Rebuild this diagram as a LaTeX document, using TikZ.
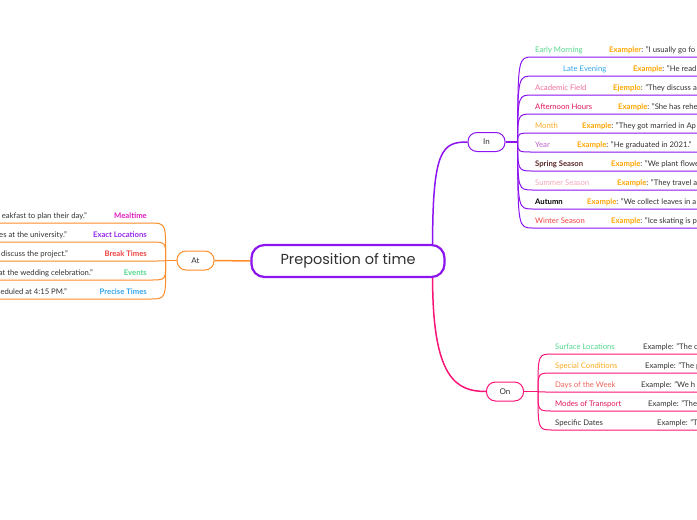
\documentclass[tikz,border=0pt]{standalone}
\usepackage{fontspec}
\setmainfont{Lato}
\newfontfamily\titlefont{Poppins}
\usetikzlibrary{positioning,backgrounds}
\definecolor{mmpurple}{RGB}{140,20,240}
\definecolor{mmorange}{RGB}{255,140,40}
\definecolor{mmpink}{RGB}{250,20,120}
\definecolor{exorange}{RGB}{255,165,0}
\definecolor{txtgray}{RGB}{50,50,50}
\definecolor{cgreen}{RGB}{80,215,140}
\definecolor{cblue}{RGB}{50,165,235}
\definecolor{crose}{RGB}{240,110,160}
\definecolor{ccrimson}{RGB}{225,20,90}
\definecolor{cgold}{RGB}{250,170,30}
\definecolor{corchid}{RGB}{185,95,200}
\definecolor{cbrown}{RGB}{90,40,40}
\definecolor{cpeach}{RGB}{245,165,185}
\definecolor{cred}{RGB}{240,65,65}
\definecolor{ccoral}{RGB}{240,100,90}
\definecolor{cmagenta}{RGB}{225,30,190}
\definecolor{cviolet}{RGB}{150,40,240}

\begin{document}
\begin{tikzpicture}[x=1pt,y=-1pt,
    topic/.style={draw, fill=white, rounded corners=9pt, line width=1pt,
      minimum width=37pt, minimum height=19pt, inner sep=0pt,
      text=txtgray, font=\fontsize{8}{9}\selectfont},
    leaf/.style={inner sep=0pt, font=\fontsize{7.7}{9}\selectfont},
    twig/.style={line width=1pt}]
  \useasboundingbox (0,0) rectangle (697,520);

  % central topic
  \node[draw=mmpurple, fill=white, line width=2.2pt, rounded corners=13pt,
    minimum width=193pt, minimum height=32pt, text=txtgray,
    font=\titlefont\fontsize{14.5}{16}\selectfont] (root) at (348,261) {Preposition of time};

  \node[topic, draw=mmorange] (at) at (195.5,260.5) {At};
  \node[topic, draw=mmpurple] (in) at (486.5,142) {In};
  \node[topic, draw=mmpink] (on) at (505,391.5) {On};

  \begin{scope}[on background layer]
    \draw[mmorange, line width=1.5pt] (root.west) -- (at.east);
    \draw[mmpurple, line width=1.5pt] ([xshift=-13pt]root.north east)
      .. controls +(0,-95) and +(-25,0) .. (in.west);
    \draw[mmpink, line width=1.5pt] ([xshift=-13pt]root.south east)
      .. controls +(0,100) and +(-30,0) .. (on.west);
  \end{scope}

  % In
  \draw[mmpurple, line width=1.5pt] (in.east) -- ++(12,0) coordinate (inhub);
  \foreach \lab/\col/\lx/\exx/\word/\txt [count=\i] in {
      Early Morning/cgreen/535/609/Exampler/{"I usually go fo},
      Late Evening/cblue/563/633/Example/{"He read},
      Academic Field/crose/535/613/Ejemplo/{"They discuss a},
      Afternoon Hours/ccrimson/535/618/Example/{"She has rehe},
      Month/cgold/535/582/Example/{"They got married in Ap},
      Year/corchid/535/577/Example/{"He graduated in 2021."},
      \textbf{Spring Season}/cbrown/535/611/Example/{"We plant flowe},
      Summer Season/cpeach/535/617/Example/{"They travel a},
      \textbf{Autumn}/black/535/587/Example/{"We collect leaves in a},
      Winter Season/cred/535/611/Example/{"Ice skating is p}}
  {
    \pgfmathsetmacro\u{38+19*\i}
    \draw[mmpurple, twig] (inhub) .. controls (518,\u) .. (533,\u) -- (697,\u);
    \node[leaf, anchor=base west, text=\col] (in-\i) at (\lx,\u-4.5) {\lab};
    \node[leaf, anchor=base west, text=txtgray] (inex-\i) at (\exx,\u-4.5)
      {\textbf{\color{exorange}\word}: \txt};
  }

  % On
  \draw[mmpink, line width=1.5pt] (on.east) -- ++(14,0) coordinate (onhub);
  \foreach \lab/\col/\exx/\txt [count=\i] in {
      Surface Locations/cgreen/643/{"The c},
      Special Conditions/cgold/645/{"The p},
      Days of the Week/ccoral/641/{"We h},
      Modes of Transport/ccrimson/648/{"The},
      Specific Dates/txtgray/657/{"T}}
  {
    \pgfmathsetmacro\u{335+19*\i}
    \draw[mmpink, twig] (onhub) .. controls (538,\u) .. (553,\u) -- (697,\u);
    \node[leaf, anchor=base west, text=\col] (on-\i) at (555,\u-5) {\lab};
    \node[leaf, anchor=base west, text=txtgray] (onex-\i) at (\exx,\u-5) {Example: \txt};
  }

  % At
  \draw[mmorange, line width=1.5pt] (at.west) -- ++(-11,0) coordinate (athub);
  \foreach \lab/\col/\exx/\txt [count=\i] in {
      Mealtime/cmagenta/87/{eakfast to plan their day."},
      Exact Locations/cviolet/67/{es at the university."},
      Break Times/cred/68/{d discuss the project."},
      Events/cgreen/93/{at the wedding celebration."},
      Precise Times/cblue/67/{heduled at 4:15 PM."}}
  {
    \pgfmathsetmacro\u{204+19*\i}
    \draw[mmorange, twig] (athub) .. controls (166,\u) .. (150,\u) -- (0,\u);
    \node[leaf, anchor=base east, text=\col] (at-\i) at (147,\u-5) {\textbf{\lab}};
    \node[leaf, anchor=base east, text=txtgray] (atex-\i) at (\exx,\u-5) {\txt};
  }
\end{tikzpicture}
\end{document}
